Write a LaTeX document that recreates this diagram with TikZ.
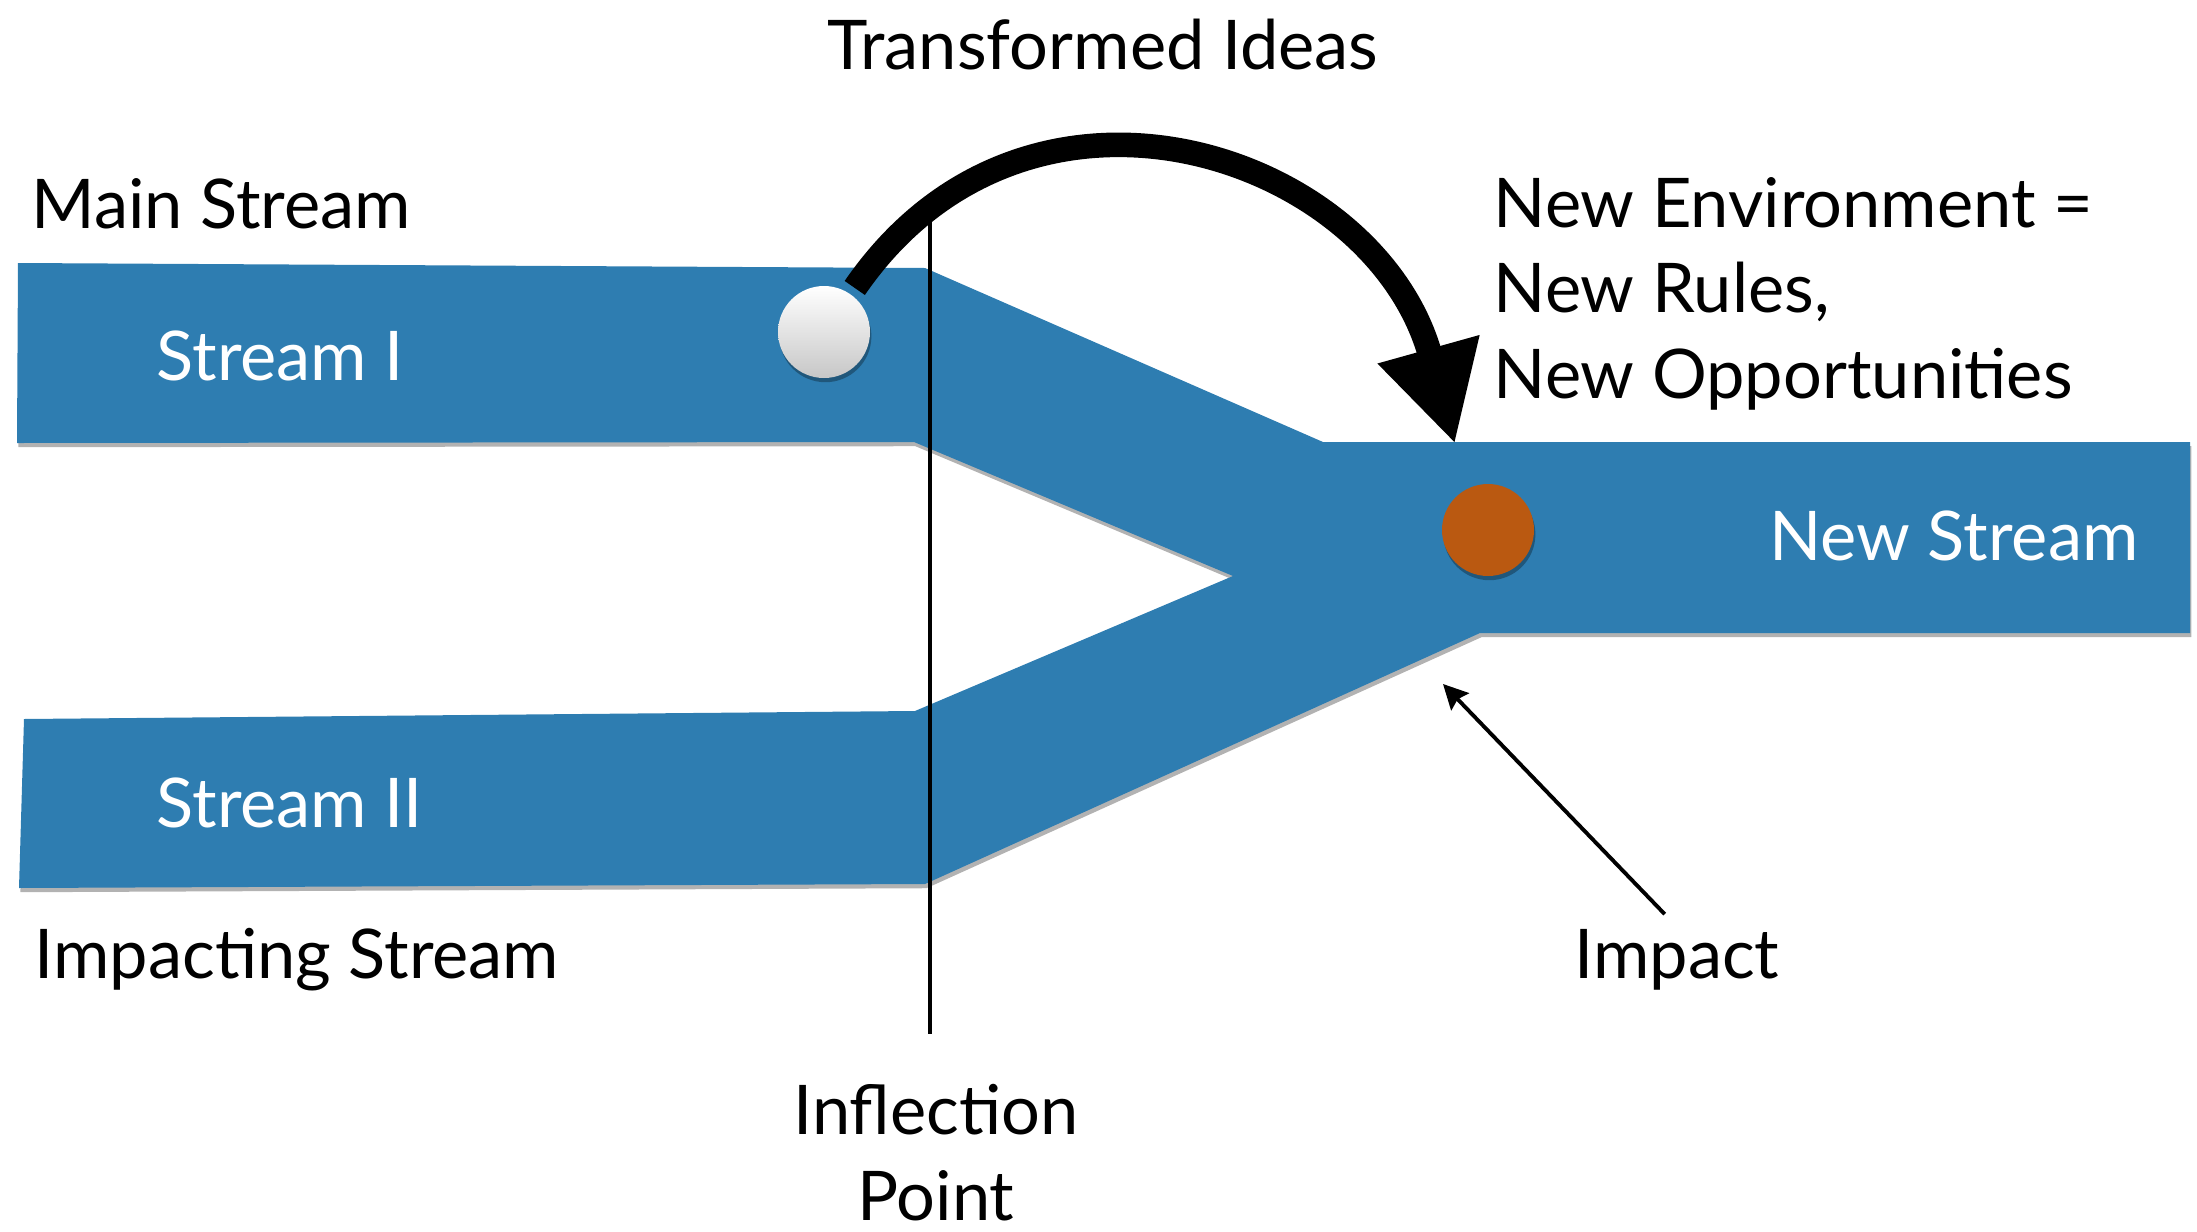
\documentclass[tikz,border=0pt]{standalone}
\usepackage{fontspec}
\setmainfont{Lato}
\usetikzlibrary{calc,positioning,arrows.meta,shadows}

\definecolor{streamblue}{RGB}{46,125,177}
\definecolor{impactorange}{RGB}{186,89,17}

\begin{document}
\begin{tikzpicture}[x=0.1mm,y=-0.1mm,
		lbl/.style={font=\fontsize{19.5}{24.2}\selectfont, inner sep=0pt},
		onband/.style={lbl, text=white},
		dot/.style={circle, minimum size=9.2mm, inner sep=0pt},
		softshadow/.style={drop shadow={shadow xshift=0.4pt, shadow yshift=-1.2pt, opacity=0.3, fill=black}},
		bigarrow/.style={line width=7pt, -{Triangle[length=28pt,width=28pt]}},
		thinarrow/.style={line width=1.1pt, -{Stealth[length=7pt,width=7pt,inset=1pt]}}]
	\useasboundingbox (0,0) rectangle (2197,1231);

	% the two streams and the joined one, one strip
	\fill[streamblue, softshadow] (18,263) -- (925,268) -- (1323,442) -- (2190,442) -- (2190,633)
		-- (1480,633) -- (925,884) -- (19,888) -- (24,719) -- (915,711) -- (1233,576)
		-- (914,442) -- (17,443) -- cycle;

	\node[lbl, anchor=base west] (mainlbl) at (31,228) {Main Stream};
	\node[onband, anchor=base west] (s1) at (156,380) {Stream I};
	\node[onband, anchor=base west] (s2) at (156,827) {Stream II};
	\node[lbl, anchor=base west] (implbl) at (34,978) {Impacting Stream};
	\node[onband, anchor=base east] (newlbl) at (2139,560) {New Stream};
	\node[lbl, anchor=base] (title) at (1103,69) {Transformed Ideas};
	% base of a multi-line node is its last line
	\node[lbl, align=left, anchor=base west] (env) at (1493,398) {New Environment =\\New Rules,\\New Opportunities};
	\node[lbl, anchor=base] (impactlbl) at (1677,978) {Impact};

	\node[dot, top color=white, bottom color=black!22, softshadow] (idea) at (824,332) {};
	\node[dot, fill=impactorange, softshadow] (impact) at (1488,530) {};

	\draw[line width=1pt] (930,217) coordinate (infltop) -- (930,1034) coordinate (inflbot);
	\node[lbl, align=center, anchor=north] (infl) at ($(inflbot)+(6,50)$) {Inflection\\Point};

	\coordinate (landing) at (1455,444);
	\coordinate (hit) at (1443,684);
	\draw[bigarrow, shorten <=2pt] (idea.55) .. controls (1028,36) and (1374,154) .. (landing);
	\draw[thinarrow] ([xshift=-3.5pt,yshift=4pt]impactlbl.north) -- (hit);
\end{tikzpicture}
\end{document}
